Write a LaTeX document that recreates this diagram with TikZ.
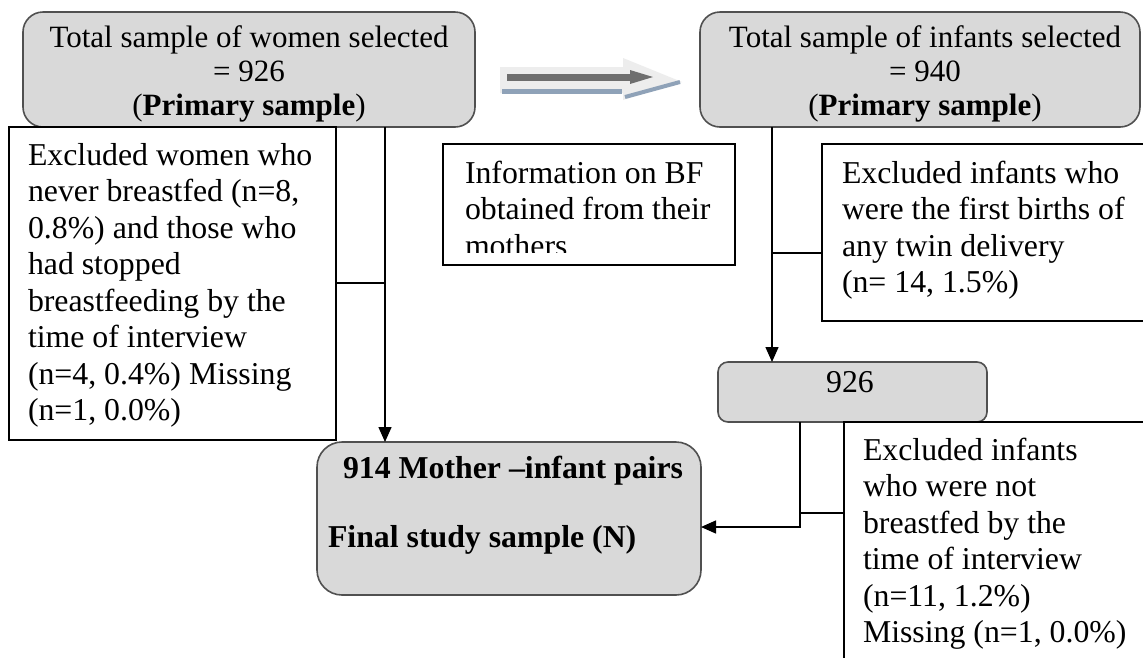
\documentclass[tikz,border=0pt]{standalone}
\usepackage{fontspec}
\setmainfont{Liberation Serif}
\usetikzlibrary{arrows.meta}
\definecolor{boxgray}{HTML}{D9D9D9}
\definecolor{edgegray}{HTML}{505050}
\definecolor{arrlight}{HTML}{EDEDED}
\definecolor{arrdark}{HTML}{6E6E6E}
\definecolor{arrblue}{HTML}{8FA2B8}
\newcommand{\ltab}[1]{\begin{tabular}[t]{@{}l@{}}#1\end{tabular}}
\newcommand{\ctab}[1]{\begin{tabular}[t]{@{}c@{}}#1\end{tabular}}
\begin{document}
\begin{tikzpicture}[x=1pt,y=-1pt,
  graybox/.style={draw=edgegray, line width=1.6pt, fill=boxgray, rounded corners=#1, inner sep=0pt, outer sep=0pt},
  graybox/.default=20pt,
  whitebox/.style={draw=black, line width=1.4pt, fill=white, inner sep=0pt, outer sep=0pt},
  txt/.style={inner sep=0pt, outer sep=0pt, font=\fontsize{31.8}{36.5}\selectfont},
  toptxt/.style={inner sep=0pt, outer sep=0pt, font=\fontsize{31}{34}\selectfont},
  conn/.style={draw=black, line width=1.4pt},
  arr/.style={conn, -{Triangle[length=15pt,width=13pt]}}]
\clip (0,0) rectangle (1143,657);
\fill[white] (0,0) rectangle (1143,657);

% boxes
\node[graybox=20pt, minimum width=452pt, minimum height=115pt] (women) at (249,69.5) {};
\node[graybox=20pt, minimum width=440pt, minimum height=115pt] (infants) at (920,69.5) {};
\node[whitebox, minimum width=327pt, minimum height=313pt] (leftbox) at (172.5,283.5) {};
\node[whitebox, minimum width=292pt, minimum height=121pt] (midbox) at (589,204.5) {};
\node[whitebox, minimum width=338pt, minimum height=177pt] (rightbox) at (991,232.5) {};
\node[graybox=10pt, minimum width=269pt, minimum height=60pt] (box926) at (852.5,392) {};
\node[graybox=25pt, minimum width=384pt, minimum height=153pt] (finalbox) at (509,518.5) {};
\node[whitebox, minimum width=316pt, minimum height=258pt] (brbox) at (1002,551) {};

% texts
\begin{scope}
\clip (23,12) rectangle (475,121);
\node[toptxt, anchor=base] (womentxt) at (249,47)
  {\ctab{Total sample of women selected\\= 926\\(\textbf{Primary sample})}};
\end{scope}
\begin{scope}
\clip (700,12) rectangle (1140,121);
\node[toptxt, anchor=base] (infantstxt) at (925,47)
  {\ctab{Total sample of infants selected\\= 940\\(\textbf{Primary sample})}};
\end{scope}
\node[txt, anchor=base west] (lefttxt) at (28,165)
  {\ltab{Excluded women who\\never breastfed (n=8,\\0.8\%) and those who\\had stopped\\breastfeeding by the\\time of interview\\(n=4, 0.4\%) Missing\\(n=1, 0.0\%)}};
\begin{scope}
\clip (443,144) rectangle (735,252);
\node[txt, anchor=base west] (midtxt) at (465,183)
  {\ltab{Information on BF\\obtained from their\\mothers}};
\end{scope}
\node[txt, anchor=base west] (righttxt) at (842,183)
  {\ltab{Excluded infants who\\were the first births of\\any twin delivery\\(n= 14, 1.5\%)}};
\node[txt, anchor=base] (txt926) at (850,392) {926};
\node[txt, anchor=base west] (brtxt) at (863,460)
  {\ltab{Excluded infants\\who were not\\breastfed by the\\time of interview\\(n=11, 1.2\%)\\Missing (n=1, 0.0\%)}};
\node[txt, anchor=base west] (finaltxt) at (328,478)
  {\ltab{\textbf{\hspace{15pt}914 Mother –infant pairs}\\[32.5pt]\textbf{Final study sample (N)}}};

% connectors
\coordinate (ja) at (385,283);
\draw[conn] (leftbox.east |- ja) -- (ja);
\draw[arr] (women.south -| ja) -- (finalbox.north -| ja);
\coordinate (jb) at (772,253);
\draw[conn] (rightbox.west |- jb) -- (jb);
\draw[arr] (infants.south -| jb) -- (box926.north -| jb);
\coordinate (jc) at (800,513);
\coordinate (jd) at (800,527);
\draw[conn] (brbox.west |- jc) -- (jc);
\draw[arr] (box926.south -| jc) -- (jd) -- (finalbox.east |- jd);

% decorative double arrow
\fill[arrlight] (500,67) -- (623,67) -- (623,58) -- (682,82) -- (623,100) -- (623,93) -- (500,93) -- cycle;
\draw[arrdark, line width=7pt] (507,77) -- (632,77);
\fill[arrdark] (630,70) -- (653,77) -- (630,84) -- cycle;
\draw[arrblue, line width=5pt] (502,91) -- (622,91);
\draw[arrblue, line width=4pt] (625,97) -- (680,82);
\end{tikzpicture}
\end{document}
